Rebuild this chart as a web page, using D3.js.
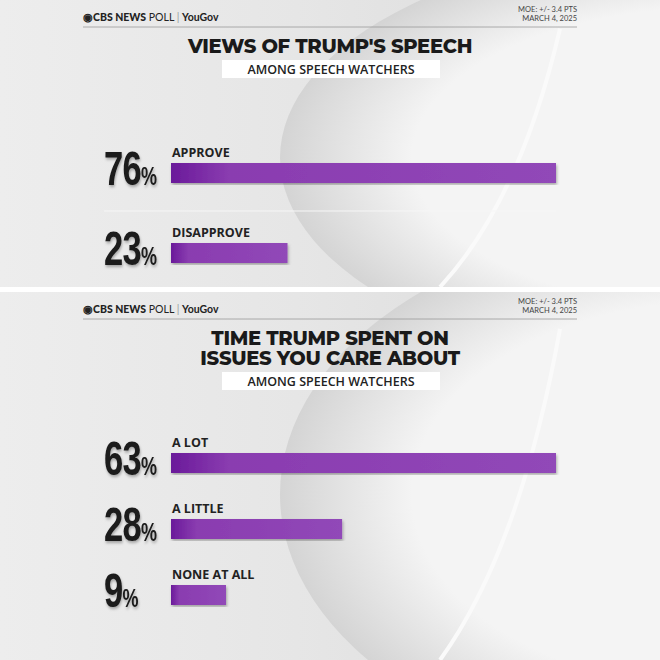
<!DOCTYPE html>
<html><head><meta charset="utf-8">
<script src="https://cdn.jsdelivr.net/npm/d3@7"></script>
<style>body{margin:0;background:#fff}svg{display:block}</style>
</head><body><div id="chart"></div>
<script>
// panel 1
var labels1 = ["APPROVE", "DISAPPROVE"];
var values1 = [76, 23];
// panel 2
var labels2 = ["A LOT", "A LITTLE", "NONE AT ALL"];
var values2 = [63, 28, 9];

var titles = [["VIEWS OF TRUMP'S SPEECH"], ["TIME TRUMP SPENT ON", "ISSUES YOU CARE ABOUT"]];
var subtitle = "AMONG SPEECH WATCHERS";
var moe = ["MOE: +/- 3.4 PTS", "MARCH 4, 2025"];

var W = 660, H = 660;
var svg = d3.select("#chart").append("svg").attr("width", W).attr("height", H);
var defs = svg.append("defs");

var bg = defs.append("linearGradient").attr("id", "bg").attr("x1", 0).attr("x2", 1);
bg.append("stop").attr("offset", 0).attr("stop-color", "#ededed");
bg.append("stop").attr("offset", 0.45).attr("stop-color", "#e6e6e6");
bg.append("stop").attr("offset", 1).attr("stop-color", "#d9d9d9");

var barg = defs.append("linearGradient").attr("id", "barg").attr("x1", 0).attr("x2", 1);
barg.append("stop").attr("offset", 0).attr("stop-color", "#6a1a9a");
barg.append("stop").attr("offset", 0.15).attr("stop-color", "#8a3cb0");
barg.append("stop").attr("offset", 1).attr("stop-color", "#9148b8");

var swoosh = defs.append("radialGradient").attr("id", "sw");
swoosh.append("stop").attr("offset", 0.7).attr("stop-color", "#f4f4f4");
swoosh.append("stop").attr("offset", 1).attr("stop-color", "#d4d4d4");

defs.append("filter").attr("id", "sh").append("feDropShadow")
	.attr("dx", 1).attr("dy", 2).attr("stdDeviation", 1.5).attr("flood-opacity", 0.3);

function panel(y0, h, labels, values, title, barY) {
	var g = svg.append("g").attr("transform", "translate(0," + y0 + ")");
	var clip = "c" + y0;
	defs.append("clipPath").attr("id", clip).append("rect").attr("width", W).attr("height", h);
	var bgG = g.append("g").attr("clip-path", "url(#" + clip + ")");
	bgG.append("rect").attr("width", W).attr("height", h).attr("fill", "url(#bg)");
	bgG.append("ellipse").attr("cx", 720).attr("cy", h * 0.55).attr("rx", 440).attr("ry", h * 0.75)
		.attr("fill", "url(#sw)");
	bgG.append("path").attr("d", "M560," + (h * 0.1) + " Q 520," + (h * 0.7) + " 440," + h)
		.attr("fill", "none").attr("stroke", "#fafafa").attr("stroke-width", 4);

	// header
	g.append("text").attr("x", 83).attr("y", 21).attr("font-family", "Lato, sans-serif")
		.attr("font-size", 10.5).attr("fill", "#222")
		.html('<tspan font-weight="900">◉CBS NEWS</tspan> POLL <tspan fill="#999">|</tspan> <tspan font-weight="bold">YouGov</tspan>');
	g.selectAll(".moe").data(moe).enter().append("text")
		.attr("x", 577).attr("y", function(d, i) { return 12 + i * 9; })
		.attr("text-anchor", "end").attr("font-family", "Lato, sans-serif")
		.attr("font-size", 7.5).attr("fill", "#444").text(function(d) { return d; });
	g.append("line").attr("x1", 83).attr("x2", 577).attr("y1", 27).attr("y2", 27)
		.attr("stroke", "#999").attr("stroke-width", 0.8);

	g.selectAll(".title").data(title).enter().append("text")
		.attr("x", 330).attr("y", function(d, i) { return 53 + i * 20; })
		.attr("text-anchor", "middle").attr("font-family", "Montserrat, 'Open Sans', sans-serif")
		.attr("font-weight", 800).attr("font-size", 19.5).attr("fill", "#1a1a1a")
		.attr("letter-spacing", -0.3).text(function(d) { return d; });
	var sy = 60 + (title.length - 1) * 20;
	g.append("rect").attr("x", 222).attr("y", sy).attr("width", 218).attr("height", 18).attr("fill", "#fff");
	g.append("text").attr("x", 331).attr("y", sy + 14).attr("text-anchor", "middle")
		.attr("font-family", "'Open Sans', sans-serif").attr("font-weight", 600)
		.attr("font-size", 12.5).attr("fill", "#222").text(subtitle);

	var x = d3.scaleLinear().domain([0, d3.max(values)]).range([171, 556]);

	labels.forEach(function(lab, i) {
		var by = barY[i];
		if (i > 0 && y0 === 0) {
			g.append("line").attr("x1", 104).attr("x2", 556).attr("y1", by - 32).attr("y2", by - 32)
				.attr("stroke", "#f6f6f6").attr("stroke-width", 1);
		}
		g.append("rect").attr("x", x(0)).attr("y", by).attr("width", x(values[i]) - x(0))
			.attr("height", 20).attr("fill", "url(#barg)").attr("filter", "url(#sh)");
		g.append("text").attr("x", 172).attr("y", by - 6).attr("font-family", "'Open Sans', sans-serif")
			.attr("font-weight", 700).attr("font-size", 12.5).attr("fill", "#222").text(lab);
		var t = g.append("text").attr("transform", "translate(104," + (by + 22) + ") scale(0.72,1)")
			.attr("font-family", "'Liberation Sans', Arial, sans-serif").attr("font-weight", 700)
			.attr("fill", "#1a1a1a").attr("filter", "url(#sh)");
		t.append("tspan").attr("font-size", 48).attr("letter-spacing", -1).text(values[i]);
		t.append("tspan").attr("font-size", 25).text("%");
	});
}

panel(0, 287, labels1, values1, titles[0], [163, 243]);
panel(292, 368, labels2, values2, titles[1], [161, 227, 293]);
</script>
</body></html>
